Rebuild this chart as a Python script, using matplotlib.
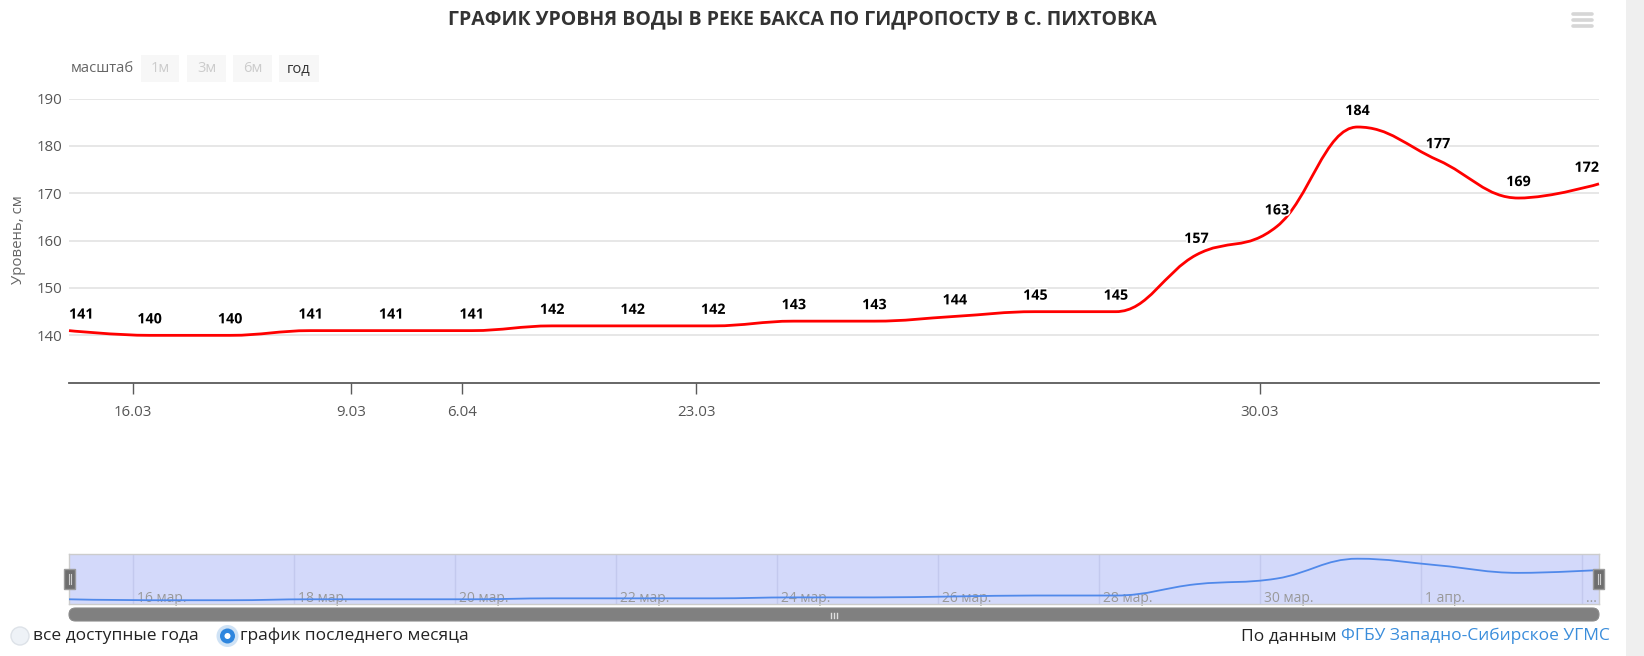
import matplotlib
matplotlib.use("Agg")
import matplotlib.pyplot as plt
import matplotlib.patheffects as pe
from matplotlib.path import Path
from matplotlib.patches import PathPatch, Rectangle, FancyBboxPatch, Circle

plt.rcParams['font.family'] = ['Open Sans', 'DejaVu Sans']

# water level, cm (one reading per day)
levels = [141, 140, 140, 141, 141, 141, 142, 142, 142, 143,
          143, 144, 145, 145, 157, 163, 184, 177, 169, 172]
days = list(range(len(levels)))

# main x axis labels (as shown by the site) and their positions in days
main_tick_pos = [0.79, 3.5, 4.88, 7.79, 14.79]
main_tick_labels = ['16.03', '9.03', '6.04', '23.03', '30.03']

# navigator labels
nav_tick_pos = [0.79, 2.79, 4.79, 6.79, 8.79, 10.79, 12.79, 14.79, 16.79, 18.79]
nav_tick_labels = ['16 мар.', '18 мар.', '20 мар.', '22 мар.', '24 мар.',
                   '26 мар.', '28 мар.', '30 мар.', '1 апр.', '...']

y_ticks = [140, 150, 160, 170, 180, 190]

W, H = 1644, 656


def spline_path(xs, ys, smoothing=1.5):
    # same control points as a highcharts "spline" series
    n = len(xs)
    denom = smoothing + 1
    ctrl = []
    for i in range(n):
        px, py = xs[i], ys[i]
        if 0 < i < n - 1:
            lx, ly = xs[i - 1], ys[i - 1]
            nx, ny = xs[i + 1], ys[i + 1]
            lcx = (smoothing * px + lx) / denom
            lcy = (smoothing * py + ly) / denom
            rcx = (smoothing * px + nx) / denom
            rcy = (smoothing * py + ny) / denom
            if rcx != lcx:
                corr = (rcy - lcy) * (rcx - px) / (rcx - lcx) + py - rcy
                lcy += corr
                rcy += corr
            if lcy > ly and lcy > py:
                lcy = max(ly, py)
                rcy = 2 * py - lcy
            elif lcy < ly and lcy < py:
                lcy = min(ly, py)
                rcy = 2 * py - lcy
            if rcy > ny and rcy > py:
                rcy = max(ny, py)
                lcy = 2 * py - rcy
            elif rcy < ny and rcy < py:
                rcy = min(ny, py)
                lcy = 2 * py - rcy
            ctrl.append(((lcx, lcy), (rcx, rcy)))
        else:
            ctrl.append(((px, py), (px, py)))
    verts = [(xs[0], ys[0])]
    codes = [Path.MOVETO]
    for i in range(1, n):
        verts += [ctrl[i - 1][1], ctrl[i][0], (xs[i], ys[i])]
        codes += [Path.CURVE4] * 3
    return Path(verts, codes)


def fx(px):
    return px / W


def fy(py):
    return 1 - py / H


fig = plt.figure(figsize=(W / 100, H / 100), dpi=100)

# ---- main chart ----
ax = fig.add_axes([fx(69), fy(382.7), fx(1599) - fx(69), fy(98.6) - fy(382.7)])
ax.set_xlim(0, len(levels) - 1)
ax.set_ylim(130, 190)
for s in ['top', 'right', 'left']:
    ax.spines[s].set_visible(False)
ax.spines['bottom'].set_color('#5a5a5a')
ax.spines['bottom'].set_linewidth(1.3)
ax.set_yticks(y_ticks)
ax.tick_params(axis='y', length=0, pad=5, labelsize=10.8, labelcolor='#555555')
ax.set_xticks(main_tick_pos)
ax.set_xticklabels(main_tick_labels)
ax.tick_params(axis='x', length=8, width=1, color='#5a5a5a', pad=8,
               labelsize=10.8, labelcolor='#555555')
ax.grid(axis='y', color='#e3e3e3', lw=1.2)
ax.set_axisbelow(True)
fig.text(fx(19), fy(240), 'Уровень, см', rotation=90, ha='center', va='center',
         fontsize=10.8, color='#666666')

ax.add_patch(PathPatch(spline_path(days, levels), fill=False, ec='#ff0000',
                       lw=2.0, clip_on=False, zorder=3))

last = len(levels) - 1
for d, v in zip(days, levels):
    ha = 'center'
    if d == 0:
        ha = 'left'
    elif d == last:
        ha = 'right'
    ax.annotate(str(v), (d, v), xytext=(0, 16), textcoords='offset pixels',
                ha=ha, va='center', fontsize=10.3, fontweight='bold', color='black',
                path_effects=[pe.withStroke(linewidth=2.5, foreground='white')],
                zorder=4, annotation_clip=False)

fig.text(fx(802), fy(19.5), 'ГРАФИК УРОВНЯ ВОДЫ В РЕКЕ БАКСА ПО ГИДРОПОСТУ В С. ПИХТОВКА',
         ha='center', va='center', fontsize=14, fontweight='bold', color='#333333')

# ---- navigator ----
nav = fig.add_axes([fx(69), fy(604), fx(1599) - fx(69), fy(554) - fy(604)])
nav.set_xlim(0, len(levels) - 1)
nav.set_ylim(136, 189)
nav.set_facecolor('#d3d9fa')
for s in nav.spines.values():
    s.set_color('#cccccc')
    s.set_linewidth(1)
nav.set_xticks([])
nav.set_yticks([])
for p, lab in zip(nav_tick_pos, nav_tick_labels):
    nav.axvline(p, color='#c3c9ee', lw=1, zorder=1)
    nav.annotate(lab, (p, 0), xycoords=('data', 'axes fraction'), xytext=(4, 6),
                 textcoords='offset pixels', ha='left', va='center',
                 fontsize=10, color='#999999', zorder=2)
nav.add_patch(PathPatch(spline_path(days, levels), fill=False, ec='#5089ea',
                        lw=1.3, zorder=3))

# ---- overlay: buttons, handles, scrollbar, radios ----
ov = fig.add_axes([0, 0, 1, 1], zorder=5)
ov.set_xlim(0, W)
ov.set_ylim(H, 0)
ov.axis('off')
ov.patch.set_alpha(0)

ov.text(71, 69, 'масштаб', ha='left', va='center', fontsize=10.6, color='#666666')
buttons = [('1м', 141, 179, '#cccccc'), ('3м', 187, 226, '#cccccc'),
           ('6м', 233, 272, '#cccccc'), ('год', 279, 319, '#333333')]
for lab, x0, x1, col in buttons:
    ov.add_patch(Rectangle((x0, 55), x1 - x0, 27, fc='#f7f7f7', ec='none'))
    ov.text((x0 + x1) / 2, 69, lab, ha='center', va='center', fontsize=10.6, color=col)

# hamburger menu
for yy in (14, 20, 26):
    ov.plot([1573, 1592], [yy, yy], color='#d6d6d6', lw=2.6, solid_capstyle='round')

# page scrollbar strip on the right
ov.add_patch(Rectangle((1626, 0), W - 1626, H, fc='#efefef', ec='none'))

# scrollbar
ov.add_patch(FancyBboxPatch((69, 608), 1530, 13, boxstyle='round,pad=0,rounding_size=6.5',
                            fc='#808080', ec='#8a8a8a', lw=0.8))
for gx in (831, 834, 837):
    ov.plot([gx, gx], [613, 617.5], color='#e0e0e0', lw=1)

# navigator handles
for hx in (64, 1593):
    ov.add_patch(Rectangle((hx, 569), 11, 20, fc='#6e6e6e', ec='#9a9a9a', lw=1))
    ov.plot([hx + 4.5, hx + 4.5], [574, 584], color='#cfcfcf', lw=0.8)
    ov.plot([hx + 6.5, hx + 6.5], [574, 584], color='#cfcfcf', lw=0.8)

# radio buttons
ov.add_patch(Circle((20, 636), 9, fc='#eef2f7', ec='#dde2e8', lw=1))
ov.text(33, 636, 'все доступные года', ha='left', va='center', fontsize=12.5, color='#222222')
ov.add_patch(Circle((227.5, 636), 11, fc='#cfe2f5', ec='none'))
ov.add_patch(Circle((227.5, 636), 7.5, fc='#2f86de', ec='none'))
ov.add_patch(Circle((227.5, 636), 3, fc='white', ec='none'))
ov.text(240, 636, 'график последнего месяца', ha='left', va='center', fontsize=12.5,
        color='#222222')

src = ov.text(1610, 636, 'ФГБУ Западно-Сибирское УГМС', ha='right', va='center',
              fontsize=12.5, color='#3a8ddb')
fig.canvas.draw()
bb = src.get_window_extent()
ov.text(bb.x0 - 5, 636, 'По данным', ha='right', va='center', fontsize=12.5,
        color='#222222')

fig.savefig('out.png', dpi=100)
